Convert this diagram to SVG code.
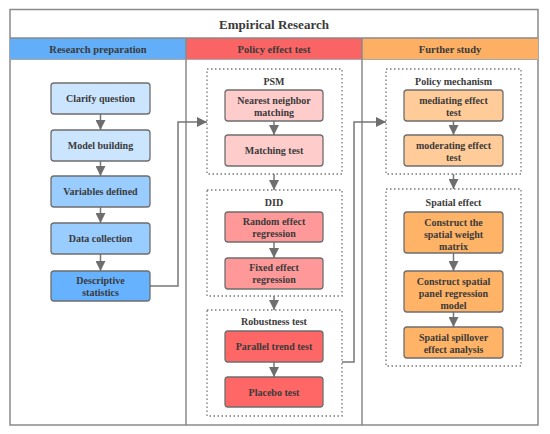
<svg xmlns="http://www.w3.org/2000/svg" width="550" height="434" viewBox="0 0 550 434">
<style>
text{font-weight:bold;fill:#3a3a3a;text-anchor:middle}
.t{font-size:10px}
.h{font-size:10.5px}
.title{font-size:13px}
.node{stroke:#6e6e6e;stroke-width:1.3}
.grp{fill:none;stroke:#777;stroke-width:1.3;stroke-dasharray:1.5 2.5}
.conn{fill:none;stroke:#777;stroke-width:1.5}
.frame{fill:none;stroke:#8a8a8a;stroke-width:1.5}
</style>
<defs>
<marker id="ah" markerUnits="userSpaceOnUse" markerWidth="10" markerHeight="10" viewBox="0 0 10 10" refX="10" refY="5" orient="auto">
<path d="M0,0 L10,5 L0,10 z" fill="#6e6e6e"/>
</marker>
</defs>
<rect x="0" y="0" width="550" height="434" fill="#fff"/>
<g font-family="Liberation Serif, Times New Roman, serif">
<g id="frame">
<rect x="10" y="9.5" width="528" height="415.5" fill="#fff" class="frame"/>
<rect x="10" y="38" width="176" height="21.5" fill="#62aef8"/>
<rect x="186" y="38" width="176" height="21.5" fill="#fb6464"/>
<rect x="362" y="38" width="176" height="21.5" fill="#fdb063"/>
<line x1="10" y1="38" x2="538" y2="38" class="frame"/>
<line x1="10" y1="59.5" x2="538" y2="59.5" stroke="#aaa" stroke-width="1"/>
<line x1="186" y1="38" x2="186" y2="425" class="frame"/>
<line x1="362" y1="38" x2="362" y2="425" class="frame"/>
<text x="274" y="28.5" class="title">Empirical Research</text>
<text x="98" y="53" class="h">Research preparation</text>
<text x="274" y="53" class="h">Policy effect test</text>
<text x="450" y="53" class="h">Further study</text>
</g>
<g id="connectors">
<path d="M100.5 114 V130" class="conn" marker-end="url(#ah)"/>
<path d="M100.5 161 V176" class="conn" marker-end="url(#ah)"/>
<path d="M100.5 207 V223" class="conn" marker-end="url(#ah)"/>
<path d="M100.5 254 V271" class="conn" marker-end="url(#ah)"/>
<path d="M150 286 H178 V122 H207" class="conn" marker-end="url(#ah)"/>
<path d="M274 121 V135" class="conn" marker-end="url(#ah)"/>
<path d="M274 174 V190" class="conn" marker-end="url(#ah)"/>
<path d="M274 242 V258" class="conn" marker-end="url(#ah)"/>
<path d="M274 296 V310" class="conn" marker-end="url(#ah)"/>
<path d="M274 362 V377" class="conn" marker-end="url(#ah)"/>
<path d="M342 362 H354 V122 H386" class="conn" marker-end="url(#ah)"/>
<path d="M453.5 121 V135" class="conn" marker-end="url(#ah)"/>
<path d="M453.5 174 V189" class="conn" marker-end="url(#ah)"/>
<path d="M453.5 253 V271" class="conn" marker-end="url(#ah)"/>
<path d="M453.5 312 V327" class="conn" marker-end="url(#ah)"/>
</g>
<g id="clarify"><rect x="51" y="83" width="99" height="31" rx="3" fill="#cce5ff" class="node"/><text x="100.5" y="102" class="t">Clarify question</text></g>
<g id="model"><rect x="51" y="130" width="99" height="31" rx="3" fill="#cce5ff" class="node"/><text x="100.5" y="149" class="t">Model building</text></g>
<g id="variables"><rect x="51" y="176" width="99" height="31" rx="3" fill="#99ccff" class="node"/><text x="100.5" y="195" class="t">Variables defined</text></g>
<g id="data"><rect x="51" y="223" width="99" height="31" rx="3" fill="#99ccff" class="node"/><text x="100.5" y="242" class="t">Data collection</text></g>
<g id="descriptive"><rect x="51" y="271" width="99" height="30" rx="3" fill="#66b2ff" class="node"/><text x="100.5" y="284" class="t">Descriptive</text><text x="100.5" y="296" class="t">statistics</text></g>

<g id="psm"><rect x="207" y="69" width="135" height="105" class="grp"/><text x="274" y="85" class="t">PSM</text></g>
<g id="nearest"><rect x="225" y="90" width="98" height="31" rx="3" fill="#ffcccc" class="node"/><text x="274" y="104" class="t">Nearest neighbor</text><text x="274" y="116" class="t">matching</text></g>
<g id="matching"><rect x="225" y="135" width="98" height="31" rx="3" fill="#ffcccc" class="node"/><text x="274" y="154" class="t">Matching test</text></g>

<g id="did"><rect x="207" y="190" width="135" height="106" class="grp"/><text x="274" y="206" class="t">DID</text></g>
<g id="random"><rect x="225" y="212" width="98" height="30" rx="3" fill="#ff9999" class="node"/><text x="274" y="225" class="t">Random effect</text><text x="274" y="237" class="t">regression</text></g>
<g id="fixed"><rect x="225" y="258" width="98" height="31" rx="3" fill="#ff9999" class="node"/><text x="274" y="271" class="t">Fixed effect</text><text x="274" y="283" class="t">regression</text></g>

<g id="robustness"><rect x="207" y="310" width="135" height="106" class="grp"/><text x="274" y="325" class="t">Robustness test</text></g>
<g id="parallel"><rect x="225" y="331" width="98" height="31" rx="3" fill="#ff6666" class="node"/><text x="274" y="350" class="t">Parallel trend test</text></g>
<g id="placebo"><rect x="225" y="377" width="98" height="30" rx="3" fill="#ff6666" class="node"/><text x="274" y="396" class="t">Placebo test</text></g>

<g id="mechanism"><rect x="386" y="69" width="135" height="105" class="grp"/><text x="453.5" y="85" class="t">Policy mechanism</text></g>
<g id="mediating"><rect x="404" y="90" width="99" height="31" rx="3" fill="#ffcc99" class="node"/><text x="453.5" y="104" class="t">mediating effect</text><text x="453.5" y="116" class="t">test</text></g>
<g id="moderating"><rect x="404" y="135" width="99" height="31" rx="3" fill="#ffcc99" class="node"/><text x="453.5" y="149" class="t">moderating effect</text><text x="453.5" y="161" class="t">test</text></g>

<g id="spatial"><rect x="386" y="189" width="135" height="177" class="grp"/><text x="453.5" y="206" class="t">Spatial effect</text></g>
<g id="weight"><rect x="404" y="212" width="99" height="41" rx="3" fill="#ffb366" class="node"/><text x="453.5" y="226" class="t">Construct the</text><text x="453.5" y="238" class="t">spatial weight</text><text x="453.5" y="250" class="t">matrix</text></g>
<g id="panel"><rect x="404" y="271" width="99" height="41" rx="3" fill="#ffb366" class="node"/><text x="453.5" y="285" class="t">Construct spatial</text><text x="453.5" y="297" class="t">panel regression</text><text x="453.5" y="309" class="t">model</text></g>
<g id="spillover"><rect x="404" y="327" width="99" height="31" rx="3" fill="#ffb366" class="node"/><text x="453.5" y="341" class="t">Spatial spillover</text><text x="453.5" y="353" class="t">effect analysis</text></g>
</g>
</svg>
